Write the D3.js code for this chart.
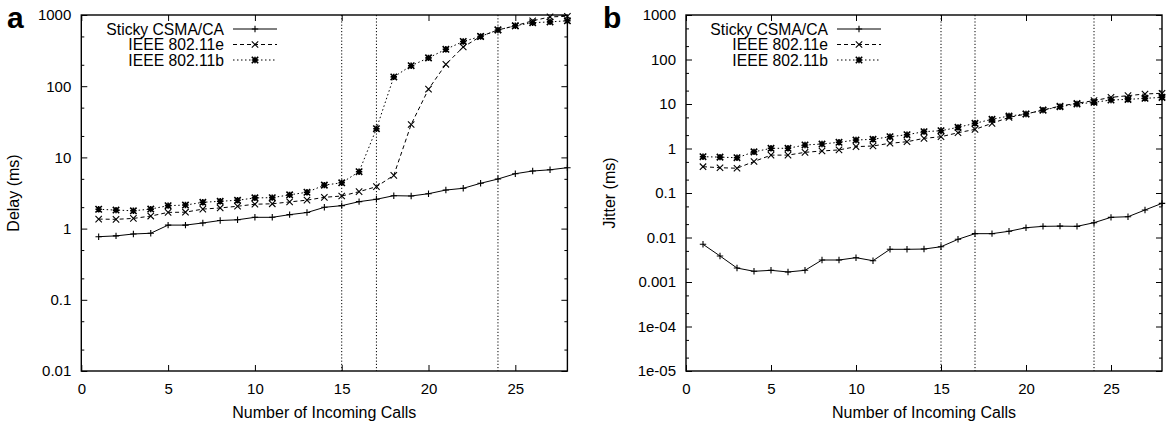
<!DOCTYPE html>
<html><head><meta charset="utf-8">
<script src="https://cdn.jsdelivr.net/npm/d3@7"></script>
<style>
html,body{margin:0;padding:0;background:#fff;}
svg{display:block;font-family:"Liberation Sans",Arial,Helvetica,sans-serif;}
</style></head>
<body>
<svg id="chart" width="1171" height="422"></svg>
<script>
// ---- data ----
const calls = [1,2,3,4,5,6,7,8,9,10,11,12,13,14,15,16,17,18,19,20,21,22,23,24,25,26,27,28];
const seriesNames = ["Sticky CSMA/CA","IEEE 802.11e","IEEE 802.11b"];
const delaySticky = [0.77,0.79,0.84,0.86,1.12,1.12,1.2,1.3,1.33,1.44,1.44,1.57,1.68,1.99,2.1,2.39,2.58,2.9,2.87,3.09,3.48,3.68,4.33,4.97,5.9,6.44,6.7,7.17];
const delayE = [1.36,1.35,1.39,1.5,1.69,1.7,1.88,1.95,2.06,2.2,2.23,2.37,2.51,2.75,2.87,3.3,3.88,5.6,29,91,203,355,500,617,705,830,940,960];
const delayB = [1.87,1.82,1.78,1.88,2.1,2.14,2.34,2.42,2.5,2.7,2.72,2.98,3.24,4.08,4.4,6.3,25.3,135,194,250,330,425,500,617,705,780,800,830];
const jitterSticky = [0.00703,0.00384,0.00206,0.00174,0.00183,0.00168,0.00183,0.00312,0.00312,0.00352,0.00301,0.00543,0.00543,0.0055,0.0062,0.0091,0.0122,0.0122,0.0138,0.0166,0.0178,0.018,0.0178,0.0215,0.0284,0.0293,0.0415,0.0586];
const jitterE = [0.39,0.37,0.36,0.51,0.71,0.71,0.82,0.88,0.93,1.1,1.14,1.31,1.42,1.69,1.84,2.26,2.69,3.68,5.0,5.96,7.3,9.0,10.4,11.9,14.1,15.4,16.8,17.4];
const jitterB = [0.655,0.64,0.62,0.84,1.01,1.01,1.2,1.26,1.38,1.55,1.61,1.84,2.04,2.39,2.51,2.99,3.68,4.53,5.37,5.96,7.3,8.7,10,10.9,12.3,12.7,13.4,14.1];
const xTicks = [0,5,10,15,20,25];
const refLines = [15,17,24];
const delayTicks = [0.01,0.1,1,10,100,1000];
const delayTickLabels = ["0.01","0.1","1","10","100","1000"];
const jitterTicks = [1e-5,1e-4,1e-3,1e-2,0.1,1,10,100,1000];
const jitterTickLabels = ["1e-05","1e-04","0.001","0.01","0.1","1","10","100","1000"];

const svg = d3.select("#chart");
const styles = [
  {dash:null, marker:"plus"},
  {dash:"4,3", marker:"cross"},
  {dash:"1.5,2.5", marker:"star"}
];

function drawMarker(g, type, x, y){
  const s = 3.2;
  const p = d3.path();
  if(type==="plus"||type==="star"){ p.moveTo(x-s,y); p.lineTo(x+s,y); p.moveTo(x,y-s); p.lineTo(x,y+s); }
  if(type==="cross"||type==="star"){ p.moveTo(x-s,y-s); p.lineTo(x+s,y+s); p.moveTo(x-s,y+s); p.lineTo(x+s,y-s); }
  g.append("path").attr("d",p.toString()).attr("stroke","#000").attr("stroke-width",type==="star"?1.6:1.1).attr("fill","none");
}

function panel(opt){
  const {left,right,top,bottom,yDomain,yTicks,yLabels,series,title,letter,letterX,titleX} = opt;
  const x = d3.scaleLinear().domain([0,28]).range([left,right]);
  const y = d3.scaleLog().domain(yDomain).range([bottom,top]);
  const g = svg.append("g");
  const minors = [];
  yTicks.forEach(t=>{ if(t<yDomain[1]){ minors.push(t*2); minors.push(t*5);} });
  const fmt = d => yLabels[yTicks.indexOf(d)];
  const la = g.append("g").attr("transform",`translate(${left},0)`)
    .call(d3.axisLeft(y).tickValues(yTicks).tickFormat(fmt).tickSize(-6).tickPadding(10));
  la.select(".domain").remove();
  la.selectAll("text").attr("font-size",15).attr("font-family","Liberation Sans, Arial, sans-serif").attr("fill","#000");
  const lm = g.append("g").attr("transform",`translate(${left},0)`)
    .call(d3.axisLeft(y).tickValues(minors).tickFormat("").tickSize(-3));
  lm.select(".domain").remove();
  const ra = g.append("g").attr("transform",`translate(${right},0)`)
    .call(d3.axisRight(y).tickValues(yTicks).tickFormat("").tickSize(-6));
  ra.select(".domain").remove();
  const rm = g.append("g").attr("transform",`translate(${right},0)`)
    .call(d3.axisRight(y).tickValues(minors).tickFormat("").tickSize(-3));
  rm.select(".domain").remove();
  const ba = g.append("g").attr("transform",`translate(0,${bottom})`)
    .call(d3.axisBottom(x).tickValues(xTicks).tickFormat(d3.format("d")).tickSize(-6).tickPadding(12));
  ba.select(".domain").remove();
  ba.selectAll("text").attr("font-size",15).attr("font-family","Liberation Sans, Arial, sans-serif").attr("fill","#000");
  const ta = g.append("g").attr("transform",`translate(0,${top})`)
    .call(d3.axisTop(x).tickValues(xTicks).tickFormat("").tickSize(-6));
  ta.select(".domain").remove();
  g.selectAll(".tick line").attr("stroke","#000").attr("stroke-width",1);

  g.selectAll(".ref").data(refLines).enter().append("line")
    .attr("x1",d=>x(d)).attr("x2",d=>x(d)).attr("y1",top).attr("y2",bottom)
    .attr("stroke","#000").attr("stroke-width",1).attr("stroke-dasharray","1.2,2");

  series.forEach((vals,i)=>{
    const line = d3.line().x((d,j)=>x(calls[j])).y(d=>y(d));
    g.append("path").datum(vals).attr("d",line).attr("fill","none")
      .attr("stroke","#000").attr("stroke-width",1)
      .attr("stroke-dasharray",styles[i].dash);
    const mg = g.append("g");
    vals.forEach((v,j)=>drawMarker(mg,styles[i].marker,x(calls[j]),y(v)));
  });

  g.append("rect").attr("x",left).attr("y",top).attr("width",right-left).attr("height",bottom-top)
    .attr("fill","none").attr("stroke","#000").attr("stroke-width",1.4);

  const lgTextX = opt.legendX;
  seriesNames.forEach((name,i)=>{
    const ly = 29 + i*15.5;
    g.append("text").attr("x",lgTextX).attr("y",ly+5.5).attr("text-anchor","end")
      .attr("font-size",15.7).attr("fill","#000").text(name);
    g.append("line").attr("x1",lgTextX+9).attr("x2",lgTextX+53).attr("y1",ly).attr("y2",ly)
      .attr("stroke","#000").attr("stroke-width",1).attr("stroke-dasharray",styles[i].dash);
    drawMarker(g,styles[i].marker,lgTextX+31,ly);
  });

  g.append("text").attr("x",(left+right)/2).attr("y",418).attr("text-anchor","middle")
    .attr("font-size",16).attr("fill","#000").text("Number of Incoming Calls");
  g.append("text").attr("transform",`translate(${titleX},${(top+bottom)/2}) rotate(-90)`)
    .attr("text-anchor","middle").attr("font-size",16).attr("fill","#000").text(title);
  g.append("text").attr("x",letterX).attr("y",28).attr("font-size",30).attr("font-weight","bold")
    .attr("fill","#000").text(letter);
}

panel({left:81.3,right:567.4,top:15,bottom:371,yDomain:[0.01,1000],yTicks:delayTicks,yLabels:delayTickLabels,
  series:[delaySticky,delayE,delayB],title:"Delay (ms)",letter:"a",letterX:7,titleX:19,legendX:224});
panel({left:686,right:1162,top:15,bottom:371,yDomain:[1e-5,1000],yTicks:jitterTicks,yLabels:jitterTickLabels,
  series:[jitterSticky,jitterE,jitterB],title:"Jitter (ms)",letter:"b",letterX:603,titleX:615,legendX:828});
</script>
</body></html>
